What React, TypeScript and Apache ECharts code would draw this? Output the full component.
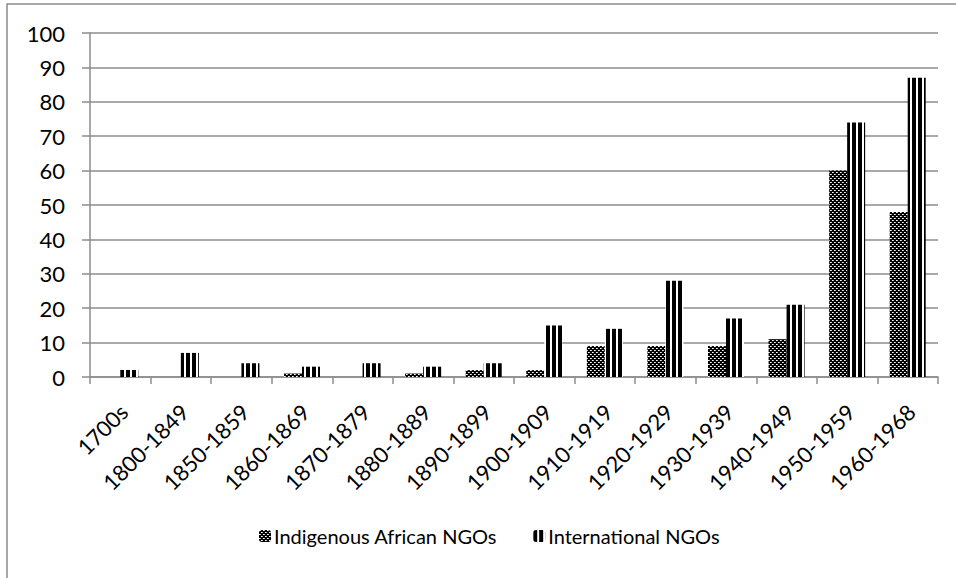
import React, { useEffect, useRef } from "react";
import * as echarts from "echarts";

const categories = [
  "1700s", "1800-1849", "1850-1859", "1860-1869", "1870-1879", "1880-1889",
  "1890-1899", "1900-1909", "1910-1919", "1920-1929", "1930-1939",
  "1940-1949", "1950-1959", "1960-1968",
];
const indigenousAfrican = [0, 0, 0, 1, 0, 1, 2, 2, 9, 9, 9, 11, 60, 48];
const international = [2, 7, 4, 3, 4, 3, 4, 15, 14, 28, 17, 21, 74, 87];
const yTicks = { min: 0, max: 100, interval: 10 };

const FONT = "Lato, 'Open Sans', sans-serif";
const GRID_GREY = "#8c8c8c";

// Small dark checker tile for the indigenous series
function checkerPattern() {
  const c = document.createElement("canvas");
  c.width = 4;
  c.height = 4;
  const g = c.getContext("2d")!;
  g.fillStyle = "#000";
  g.fillRect(0, 0, 4, 4);
  g.fillStyle = "#fff";
  g.fillRect(0, 0, 1, 1);
  g.fillRect(2, 2, 1, 1);
  g.fillStyle = "#bbb";
  g.fillRect(1, 0, 1, 1);
  g.fillRect(3, 2, 1, 1);
  return { image: c.toDataURL(), repeat: "repeat", imageWidth: 4, imageHeight: 4 };
}

// Wide vertical stripes for the international series
function stripePattern() {
  const c = document.createElement("canvas");
  c.width = 6;
  c.height = 6;
  const g = c.getContext("2d")!;
  g.fillStyle = "#fff";
  g.fillRect(0, 0, 6, 6);
  g.fillStyle = "#000";
  g.fillRect(0, 0, 4, 6);
  return { image: c.toDataURL(), repeat: "repeat", imageWidth: 6, imageHeight: 6 };
}

export default function App() {
  const ref = useRef<HTMLDivElement>(null);

  useEffect(() => {
    if (!ref.current) return;
    const chart = echarts.init(ref.current, null, { renderer: "svg" });
    const checker = checkerPattern();
    const stripes = stripePattern();

    chart.setOption({
      animation: false,
      backgroundColor: "#fff",
      textStyle: { fontFamily: FONT },
      graphic: [
        {
          type: "rect",
          shape: { x: 7, y: 4, width: 1200, height: 1200 },
          style: { fill: "none", stroke: "#8a8a8a", lineWidth: 1.5 },
          silent: true,
          z: -1,
        },
      ],
      grid: { left: 90, right: 18, top: 33, bottom: 201, containLabel: false },
      legend: {
        top: 521,
        left: 254,
        itemWidth: 12,
        itemHeight: 12,
        itemGap: 36,
        textStyle: { fontFamily: FONT, fontSize: 20, color: "#000", padding: [0, 0, 0, -2] },
        data: ["Indigenous African NGOs", "International NGOs"],
      },
      xAxis: {
        type: "category",
        data: categories,
        axisLine: { lineStyle: { color: GRID_GREY, width: 1.5 } },
        axisTick: { show: true, length: 7, lineStyle: { color: GRID_GREY, width: 1.5 } },
        axisLabel: {
          rotate: 45,
          interval: 0,
          margin: 19,
          align: "right",
          verticalAlign: "top",
          padding: [0, 6, 0, 0],
          fontFamily: FONT,
          fontSize: 22,
          color: "#000",
        },
      },
      yAxis: {
        type: "value",
        min: yTicks.min,
        max: yTicks.max,
        interval: yTicks.interval,
        axisLine: { show: true, lineStyle: { color: GRID_GREY, width: 1.5 } },
        axisTick: { show: true, length: 8, lineStyle: { color: GRID_GREY, width: 1.5 } },
        splitLine: { lineStyle: { color: GRID_GREY, width: 1.5 } },
        axisLabel: { fontFamily: FONT, fontSize: 22, color: "#000", margin: 25 },
      },
      series: [
        {
          name: "Indigenous African NGOs",
          type: "bar",
          data: indigenousAfrican,
          barWidth: 18,
          barGap: "0%",
          itemStyle: { color: checker },
        },
        {
          name: "International NGOs",
          type: "bar",
          data: international,
          barWidth: 18,
          itemStyle: { color: stripes },
        },
      ],
    });

    return () => chart.dispose();
  }, []);

  return <div ref={ref} style={{ width: 956, height: 578, position: "absolute", left: 0, top: 0 }} />;
}
